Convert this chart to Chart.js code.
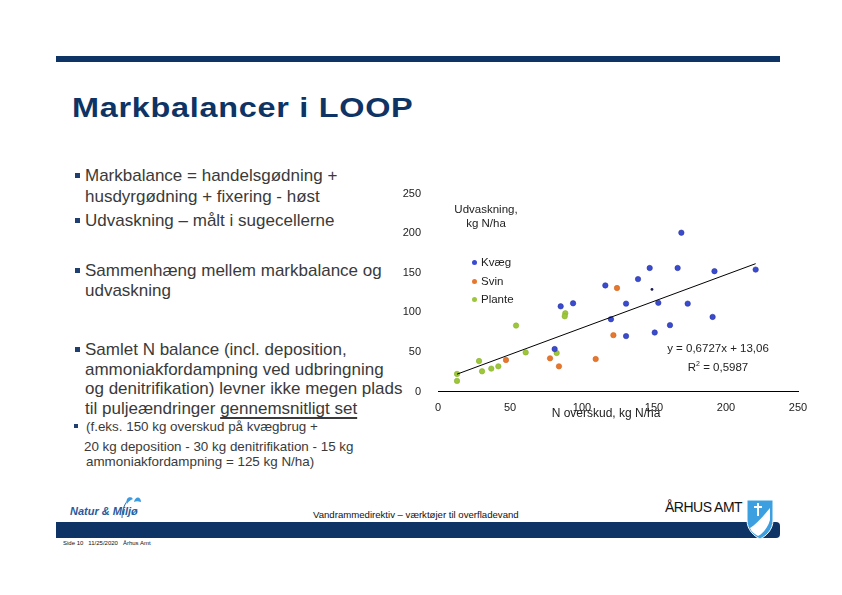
<!DOCTYPE html>
<html lang="da">
<head>
<meta charset="utf-8">
<title>Markbalancer i LOOP</title>
<script src="https://cdn.jsdelivr.net/npm/chart.js@4"></script>
<style>
    html, body { margin: 0; padding: 0; background: #fff; }
    body { width: 842px; height: 595px; position: relative; overflow: hidden;
           font-family: "Liberation Sans", Arial, sans-serif; color: #3a3a3a; }
    .abs { position: absolute; white-space: nowrap; }
    .topbar { left: 56px; top: 56px; width: 724px; height: 6px; background: #0d3465; }
    .title { left: 72px; top: 93px; font-size: 27px; font-weight: bold; color: #0d3465;
             letter-spacing: 0.6px; transform: scaleX(1.2); transform-origin: left top; }
    .big { font-size: 17px; line-height: 20.5px; left: 85px; }
    .small { font-size: 13.4px; line-height: 16px; }
    .sq { position: absolute; background: #1f3f70; }
    .u { text-decoration: underline; text-decoration-thickness: 2px; text-underline-offset: 3px;
         text-decoration-skip-ink: none; }
    #chartBox { position: absolute; left: 400px; top: 170px; width: 420px; height: 255px; }
    .note { font-size: 11.5px; color: #222; text-align: center; }
    .leg { font-size: 11.5px; color: #222; }
    .dot { position: absolute; width: 5px; height: 5px; border-radius: 50%; }
    .footbar { left: 56px; top: 522px; width: 724px; height: 16px; background: #0d3465; border-radius: 0 4px 4px 0; }
</style>
</head>
<body>
<div class="abs topbar"></div>
<div class="abs title">Markbalancer i LOOP</div>

<!-- Punkter -->
<div class="sq" style="left:75px;top:173px;width:5px;height:5px"></div>
<div class="abs big" style="top:166px">Markbalance = handelsgødning +<br>husdyrgødning + fixering - høst</div>
<div class="sq" style="left:75px;top:218px;width:5px;height:5px"></div>
<div class="abs big" style="top:211px">Udvaskning – målt i sugecellerne</div>
<div class="sq" style="left:75px;top:268px;width:5px;height:5px"></div>
<div class="abs big" style="top:261px;line-height:20px">Sammenhæng mellem markbalance og<br>udvaskning</div>
<div class="sq" style="left:75px;top:347px;width:5px;height:5px"></div>
<div class="abs big" style="top:340px;line-height:19.5px">Samlet N balance (incl. deposition,<br>ammoniakfordampning ved udbringning<br>og denitrifikation) levner ikke megen plads<br>til puljeændringer <span class="u">gennemsnitligt set</span></div>
<div class="sq" style="left:74px;top:424px;width:4px;height:4px"></div>
<div class="abs small" style="left:86px;top:419px">(f.eks. 150 kg overskud på kvægbrug +</div>
<div class="abs small" style="left:84px;top:439px">20 kg deposition - 30 kg denitrifikation - 15 kg</div>
<div class="abs small" style="left:86px;top:454px">ammoniakfordampning = 125 kg N/ha)</div>

<!-- Diagram -->
<div id="chartBox"><canvas id="scatterChart"></canvas></div>
<div class="abs note" style="left:446px;top:202px;width:80px;line-height:14px">Udvaskning,<br>kg N/ha</div>
<div class="dot" style="left:472px;top:260px;background:#3a4bd0"></div>
<div class="abs leg" style="left:481px;top:256px">Kvæg</div>
<div class="dot" style="left:472px;top:279px;background:#e8772e"></div>
<div class="abs leg" style="left:481px;top:275px">Svin</div>
<div class="dot" style="left:472px;top:297px;background:#9dc63b"></div>
<div class="abs leg" style="left:481px;top:293px">Plante</div>
<div class="abs note" style="left:658px;top:340px;width:120px;line-height:16px">y = 0,6727x + 13,06<br>R<sup style="font-size:7px">2</sup> = 0,5987</div>
<div class="abs note" style="left:546px;top:406px;width:120px;font-size:12px">N overskud, kg N/ha</div>

<!-- Sidefod -->
<svg class="abs" style="left:118px;top:494px" width="26" height="26" viewBox="0 0 26 26">
    <path d="M4 24 C4 14 8 6 14 4" stroke="#2a6fb0" stroke-width="1" fill="none"/>
    <path d="M9 10 C7 4 12 1 15 5 C12 6 10 8 9 10 Z" fill="#3c9be0"/>
    <path d="M16 8 C17 2 23 2 23 8 C20 7 18 7 16 8 Z" fill="#3c9be0"/>
</svg>
<div class="abs" style="left:70px;top:505px;font-size:11px;font-weight:bold;font-style:italic;color:#2a5a9a">Natur &amp; Miljø</div>
<div class="abs" style="left:313px;top:509px;font-size:9.6px;color:#111">Vandrammedirektiv – værktøjer til overfladevand</div>
<div class="abs" style="left:665px;top:499px;font-size:14px;color:#111;letter-spacing:-0.5px">ÅRHUS AMT</div>
<div class="abs footbar"></div>
<svg class="abs" style="left:746px;top:498px" width="28" height="42" viewBox="0 0 28 42">
    <path d="M1 2 L27 2 L27 22 C27 32 20 38 14 41 C8 38 1 32 1 22 Z" fill="#3ca0e0" stroke="#fff" stroke-width="1"/>
    <path d="M4 30 C10 26 16 20 24 10 L24 22 C22 30 16 36 12 38 C8 36 5 33 4 30 Z" fill="#fff"/>
    <path d="M12 5 L12 18 M8 9 L16 9" stroke="#fff" stroke-width="2"/>
</svg>
<div class="abs" style="left:63px;top:540px;font-size:6px;color:#111">Side 10 &nbsp; 11/25/2020 &nbsp; Århus Amt</div>

<script>
// Kvæg
const kvaegX = [169, 147, 166.4, 192, 220.6, 138.9, 116.2, 85.2, 93.8, 130.6, 153, 173.4, 120.1, 190.7, 161.1, 130.6, 150.5, 81];
const kvaegY = [200.6, 156, 156, 152, 154, 142, 134, 107.6, 111.4, 111, 112, 111, 91.3, 94.2, 83.8, 70, 74.5, 53.6];
// lille mørk punkt
const ekstraX = [148.6];
const ekstraY = [129];
// Svin
const svinX = [124.3, 121.8, 47.2, 77.8, 84, 109.5];
const svinY = [130.7, 71.2, 39.8, 41.9, 31.8, 41];
// Plante
const planteX = [54.2, 88.4, 88, 60.9, 82.4, 28.5, 41.9, 37, 30.6, 13.2, 13.2];
const planteY = [83.3, 98.8, 95, 49.4, 48.6, 38.5, 31.8, 28.9, 25.5, 22.2, 13.4];
// Tendenslinje (endepunkter aflæst)
const trendX = [13.2, 220.6];
const trendY = [21.9, 161.5];
// Akser
const axisMin = 0;
const axisMax = 250;
const axisStep = 50;

function toPoints(xs, ys) {
    return xs.map((x, i) => ({ x: x, y: ys[i] }));
}

const tickFont = { family: '"Liberation Sans", Arial, sans-serif', size: 11 };

const ctx = document.getElementById('scatterChart').getContext('2d');
new Chart(ctx, {
    type: 'scatter',
    data: {
        datasets: [
            {
                label: 'Tendens',
                type: 'line',
                data: toPoints(trendX, trendY),
                borderColor: '#000',
                borderWidth: 1,
                pointRadius: 0,
                fill: false
            },
            {
                label: 'Kvæg',
                data: toPoints(kvaegX, kvaegY),
                backgroundColor: '#3a4bd0',
                borderColor: '#2a36a0',
                borderWidth: 0.6,
                pointRadius: 2.7
            },
            {
                label: '',
                data: toPoints(ekstraX, ekstraY),
                backgroundColor: '#1a1a5a',
                borderWidth: 0,
                pointRadius: 1.4
            },
            {
                label: 'Svin',
                data: toPoints(svinX, svinY),
                backgroundColor: '#e8772e',
                borderColor: '#d0651f',
                borderWidth: 0.6,
                pointRadius: 2.7
            },
            {
                label: 'Plante',
                data: toPoints(planteX, planteY),
                backgroundColor: '#9dc63b',
                borderColor: '#86b02a',
                borderWidth: 0.6,
                pointRadius: 2.7
            }
        ]
    },
    options: {
        responsive: true,
        maintainAspectRatio: false,
        animation: false,
        layout: { padding: { top: 11, right: 22, left: 0, bottom: 0 } },
        plugins: {
            legend: { display: false },
            tooltip: { enabled: false }
        },
        scales: {
            x: {
                type: 'linear',
                min: axisMin,
                max: axisMax,
                ticks: { stepSize: axisStep, color: '#222', font: tickFont, padding: 10 },
                grid: { display: false, drawTicks: false },
                border: { display: true, color: '#000', width: 1 },
                afterFit: function(scale) { scale.height = 33.5; }
            },
            y: {
                type: 'linear',
                min: axisMin,
                max: axisMax,
                ticks: { stepSize: axisStep, color: '#222', font: tickFont, padding: 17 },
                grid: { display: false, drawTicks: false },
                border: { display: false },
                afterFit: function(scale) { scale.width = 38; }
            }
        }
    }
});
</script>
</body>
</html>
